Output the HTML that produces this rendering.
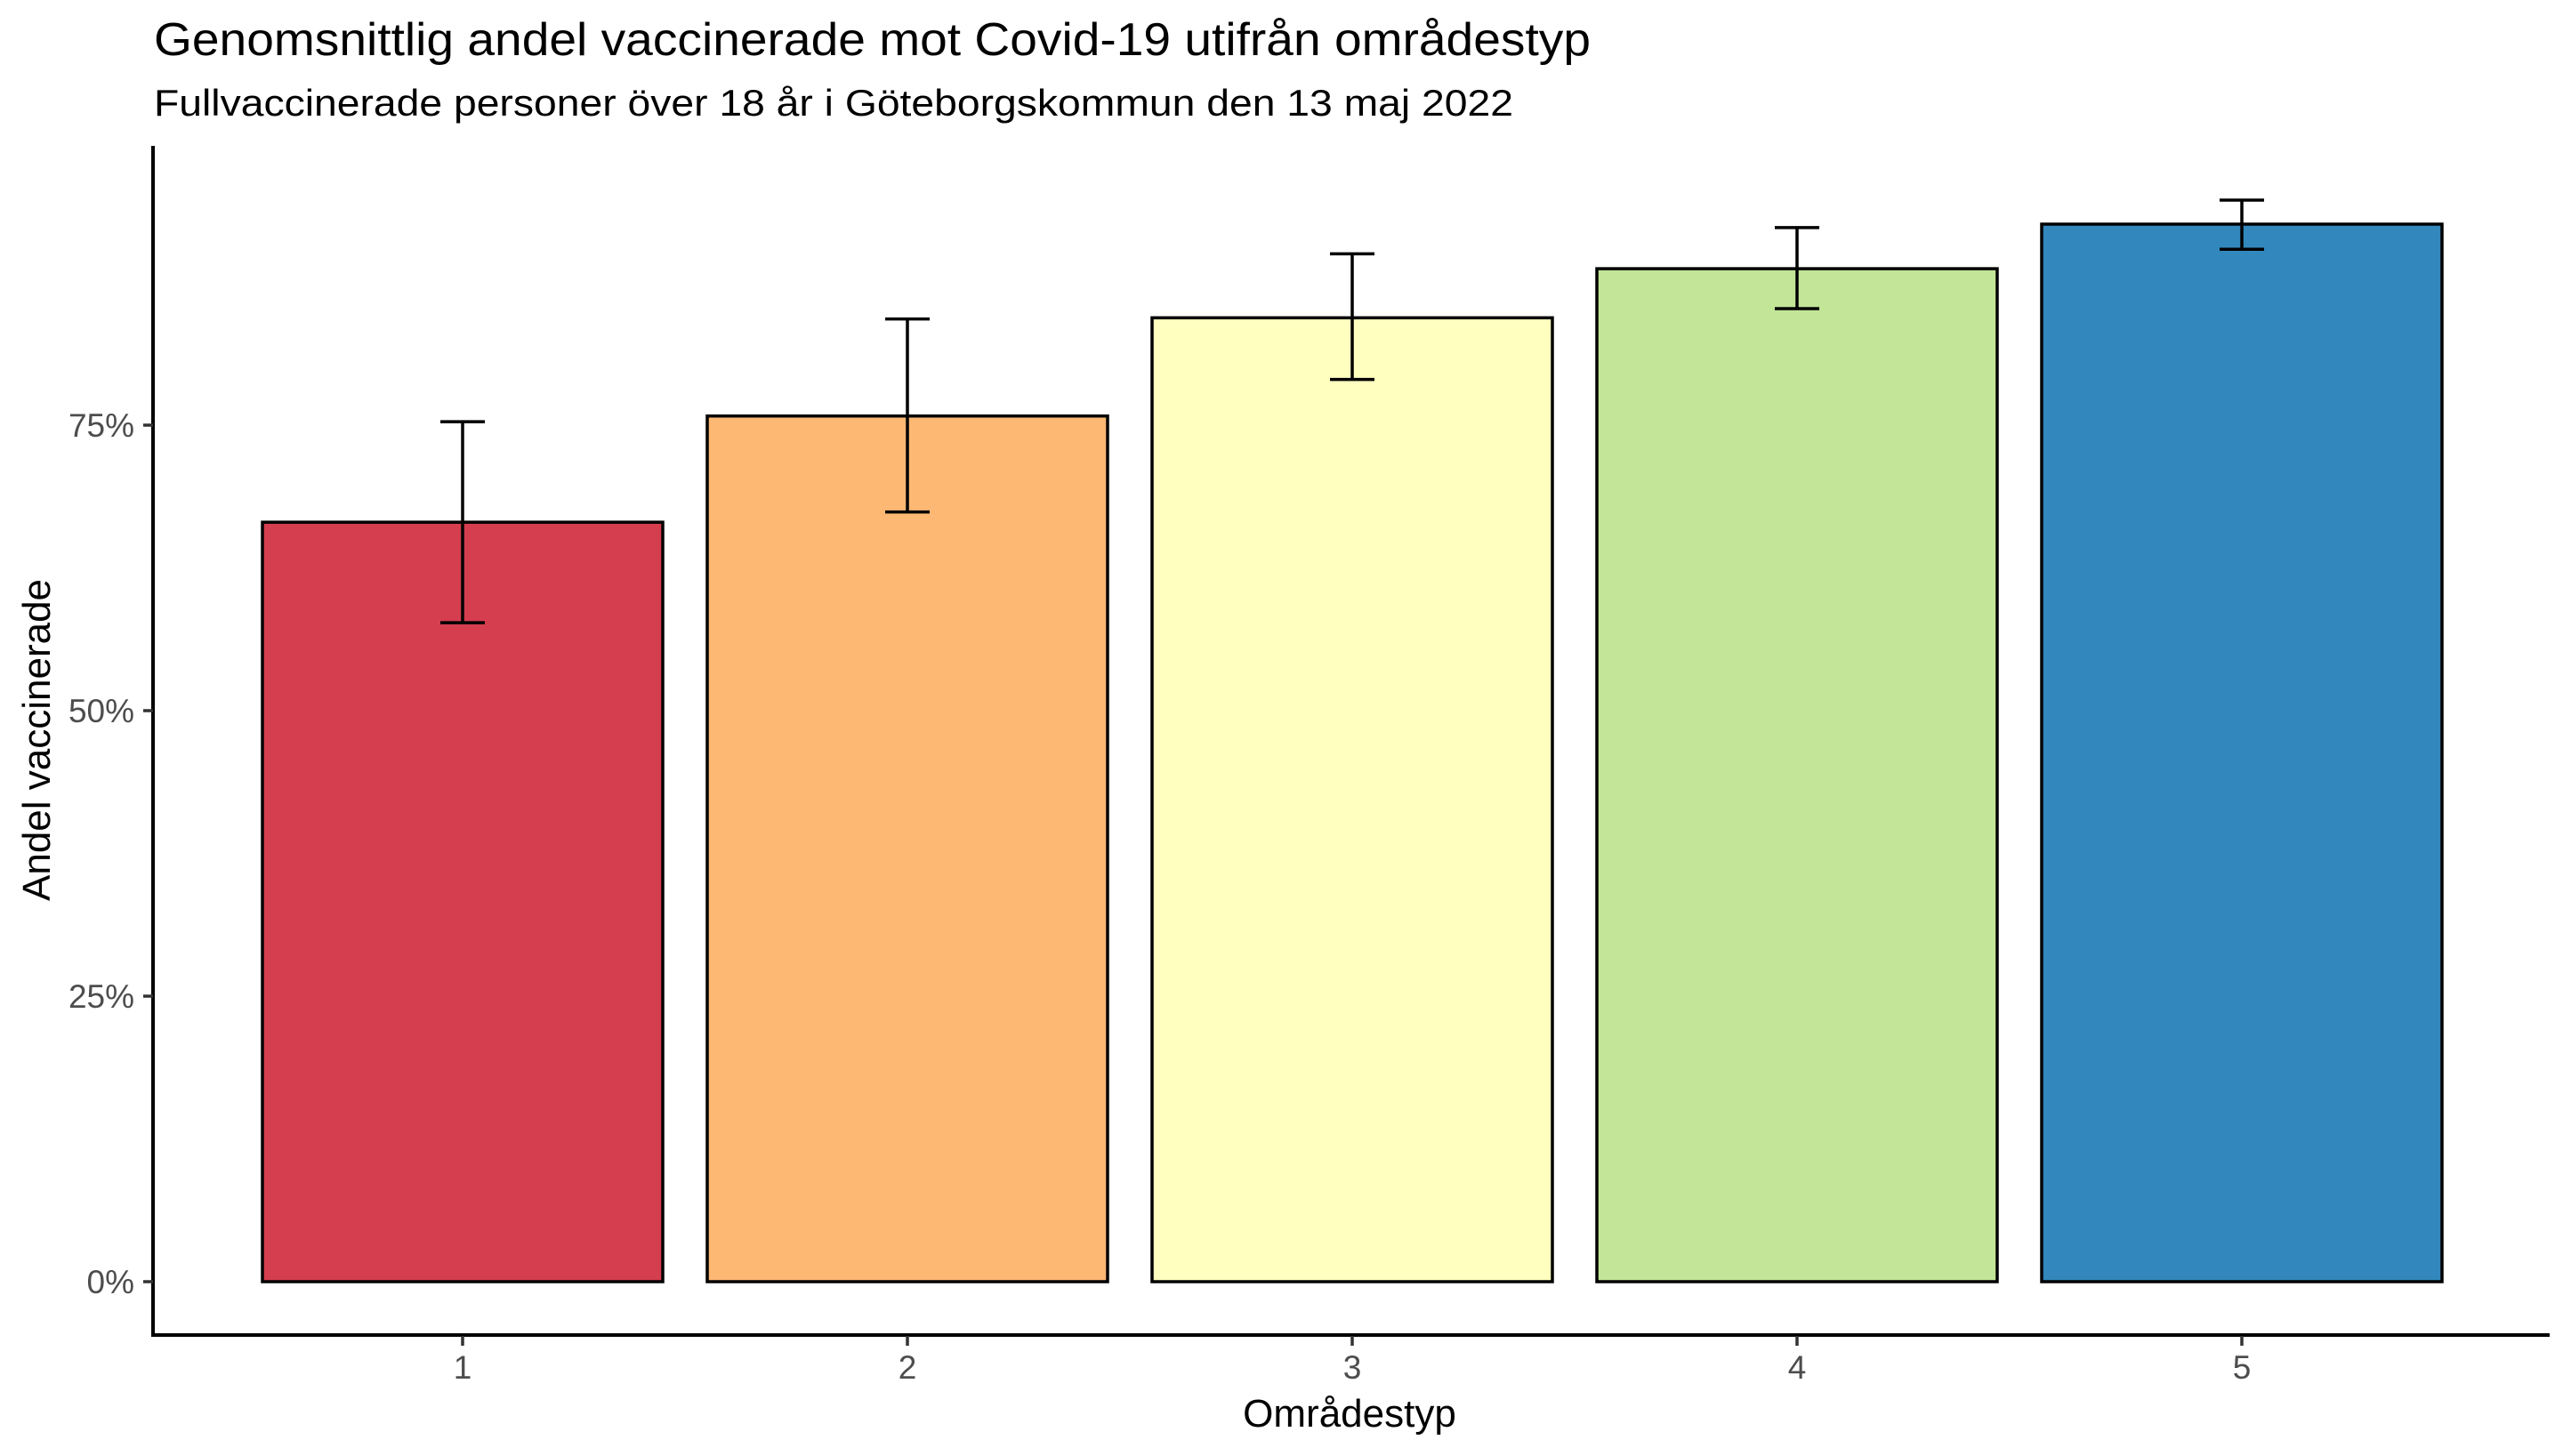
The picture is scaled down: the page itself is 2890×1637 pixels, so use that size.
<!DOCTYPE html>
<html><head><meta charset="utf-8"><style>
html,body{margin:0;padding:0;background:#fff;}
svg{display:block;font-family:"Liberation Sans",Arial,sans-serif;}
</style></head><body>
<svg id="chart" width="2890" height="1637" viewBox="0 0 2890 1637">
<text x="173" y="62" font-size="52" textLength="1615" lengthAdjust="spacingAndGlyphs" fill="#000">Genomsnittlig andel vaccinerade mot Covid-19 utifrån områdestyp</text>
<text x="173" y="130" font-size="42" textLength="1528" lengthAdjust="spacingAndGlyphs" fill="#000">Fullvaccinerade personer över 18 år i Göteborgskommun den 13 maj 2022</text>
<g id="bars"></g>
<g id="axes"></g>
<text x="1517" y="1604" font-size="44" text-anchor="middle" fill="#000">Områdestyp</text>
<text transform="translate(56,832) rotate(-90)" font-size="44" text-anchor="middle" fill="#000">Andel vaccinerade</text>
</svg>
<script>
const categories = ["1","2","3","4","5"];
const values = [66.5, 75.8, 84.4, 88.7, 92.6];
const errLow = [57.7, 67.4, 79.0, 85.2, 90.4];
const errHigh = [75.3, 84.3, 90.0, 92.3, 94.7];
const colors = ["#D53E4F","#FDB874","#FFFFBF","#C2E597","#3288BD"];
const yTicks = [0, 25, 50, 75];
const yTickLabels = ["0%","25%","50%","75%"];

const NS = "http://www.w3.org/2000/svg";
const y0 = 1441, pxPer = 12.84;
function yScale(v){ return y0 - v*pxPer; }
function xScale(i){ return 520 + i*500; }
const barW = 450, capHalf = 25;
function mk(tag, attrs, parent){ const e=document.createElementNS(NS,tag); for(const k in attrs) e.setAttribute(k,attrs[k]); parent.appendChild(e); return e; }

const bars = document.getElementById('bars');
categories.forEach((c,i)=>{
  const cx = xScale(i);
  const r = mk('rect',{x:cx-barW/2,y:yScale(values[i]),width:barW,height:yScale(0)-yScale(values[i]),fill:colors[i],stroke:'#000','stroke-width':3.5},bars);
  
  
  const g = mk('g',{stroke:'#000','stroke-width':3.5,fill:'none'},bars);
  
  
  mk('line',{x1:cx,x2:cx,y1:yScale(errLow[i]),y2:yScale(errHigh[i])},g);
  mk('line',{x1:cx-capHalf,x2:cx+capHalf,y1:yScale(errLow[i]),y2:yScale(errLow[i])},g);
  mk('line',{x1:cx-capHalf,x2:cx+capHalf,y1:yScale(errHigh[i]),y2:yScale(errHigh[i])},g);
});

const axes = document.getElementById('axes');
const ya = mk('line',{x1:172,x2:172,y1:164,y2:1503,stroke:'#000','stroke-width':4},axes);


const xa = mk('line',{x1:170,x2:2866,y1:1501,y2:1501,stroke:'#000','stroke-width':4},axes);


yTicks.forEach((t,i)=>{
  const y = yScale(t);
  mk('line',{x1:161,x2:172,y1:y,y2:y,stroke:'#333','stroke-width':3.5},axes);
  const tx = mk('text',{x:151,y:y+13,'font-size':37,'text-anchor':'end',fill:'#4d4d4d'},axes);
  tx.textContent = yTickLabels[i];
  
  
});
categories.forEach((c,i)=>{
  const x = xScale(i);
  mk('line',{x1:x,x2:x,y1:1502,y2:1513,stroke:'#333','stroke-width':3.5},axes);
  const tx = mk('text',{x:x,y:1550,'font-size':37,'text-anchor':'middle',fill:'#4d4d4d'},axes);
  tx.textContent = c;
  
  
});
</script>
</body></html>
